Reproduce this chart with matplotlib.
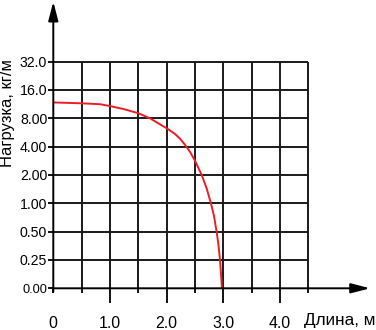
import numpy as np
import matplotlib.pyplot as plt
from matplotlib.ticker import FixedLocator, FixedFormatter

plt.rcParams['font.family'] = ['Liberation Sans', 'DejaVu Sans']

# curve: length (m) -> load (kg/m)
length_m = [0.0, 0.5, 0.824, 1.0, 1.235, 1.5, 1.705, 2.0, 2.146, 2.235, 2.32, 2.41,
            2.5, 2.617, 2.705, 2.78, 2.835, 2.88, 2.912, 2.94, 2.96, 2.975]
load_kg_m = [11.8, 11.55, 11.3, 10.8, 10.05, 9.06, 8.0, 6.27, 5.46, 4.86, 4.2, 3.53,
             2.83, 2.0, 1.44, 1.0, 0.73, 0.5, 0.366, 0.25, 0.11, 0.0]

y_ticks = [0.0, 0.25, 0.5, 1.0, 2.0, 4.0, 8.0, 16.0, 32.0]
y_labels = ['0.00', '0.25', '0.50', '1.00', '2.00', '4.00', '8.00', '16.0', '32.0']
x_major = [1.0, 2.0, 3.0, 4.0]
x_major_labels = ['1.0', '2.0', '3.0', '4.0']
x_minor = [0.0, 0.5, 1.5, 2.5, 3.5, 4.5]
x_minor_labels = ['0', '', '', '', '', '']
x_grid = [0.5, 1.0, 1.5, 2.0, 2.5, 3.0, 3.5, 4.0, 4.5]


# doubling scale above 0.25, linear between 0 and 0.25
def fwd(v):
    v = np.asarray(v, dtype=float)
    return np.where(v >= 0.25, np.log2(np.maximum(v, 0.25) / 0.125), v / 0.25)


def inv(p):
    p = np.asarray(p, dtype=float)
    return np.where(p >= 1, 0.125 * 2 ** p, p * 0.25)


W, H = 376, 330
fig = plt.figure(figsize=(W / 100, H / 100), dpi=100)
x0, x1, y0, y1 = 53.3, 370, 288.3, 1.7
ax = fig.add_axes([x0 / W, (H - y0) / H, (x1 - x0) / W, (y0 - y1) / H])
ax.set_yscale('function', functions=(fwd, inv))
ax.set_xlim(0, (x1 - x0) / 56.7)
ax.set_ylim(0, inv((y0 - y1) / 28.33))

for s in ax.spines.values():
    s.set_visible(False)

grid_kw = dict(color='#1a1a1a', lw=1.4, zorder=1)
ax.vlines(x_grid, 0, 32, **grid_kw)
ax.hlines(y_ticks[1:], 0, 4.5, **grid_kw)

ax.plot(length_m, load_kg_m, color='#ee1d23', lw=1.4, zorder=3)

# axes with arrow heads
arrow = dict(arrowstyle='-|>,head_length=1.15,head_width=0.3', mutation_scale=10,
             lw=1.4, color='black', shrinkA=0, shrinkB=0)
ax.annotate('', xy=(1, 0), xytext=(0, 0), xycoords='axes fraction', arrowprops=arrow)
ax.annotate('', xy=(0, 1), xytext=(0, -0.012), xycoords='axes fraction', arrowprops=arrow)

ax.yaxis.set_major_locator(FixedLocator(y_ticks))
ax.yaxis.set_major_formatter(FixedFormatter(y_labels))
ax.yaxis.set_minor_locator(FixedLocator([]))
ax.tick_params(axis='y', direction='out', length=3.6, width=1.3, pad=0.8, labelsize=10.2)
ax.get_yticklabels()[0].set_fontsize(9.2)

ax.xaxis.set_major_locator(FixedLocator(x_major))
ax.xaxis.set_major_formatter(FixedFormatter(x_major_labels))
ax.xaxis.set_minor_locator(FixedLocator(x_minor))
ax.xaxis.set_minor_formatter(FixedFormatter(x_minor_labels))
ax.tick_params(axis='x', which='major', direction='out', length=10.8, width=1.3,
               pad=9.3, labelsize=11.4)
ax.tick_params(axis='x', which='minor', direction='out', length=3.6, width=1.3,
               pad=16.5, labelsize=11.4)

fig.text(375 / W, (H - 321) / H, 'Длина, м', ha='right', va='center', fontsize=12.3)
fig.text(8 / W, (H - 113) / H, 'Нагрузка, кг/м', ha='center', va='center',
         rotation=90, fontsize=11.9)

fig.savefig('out.png', dpi=100)
